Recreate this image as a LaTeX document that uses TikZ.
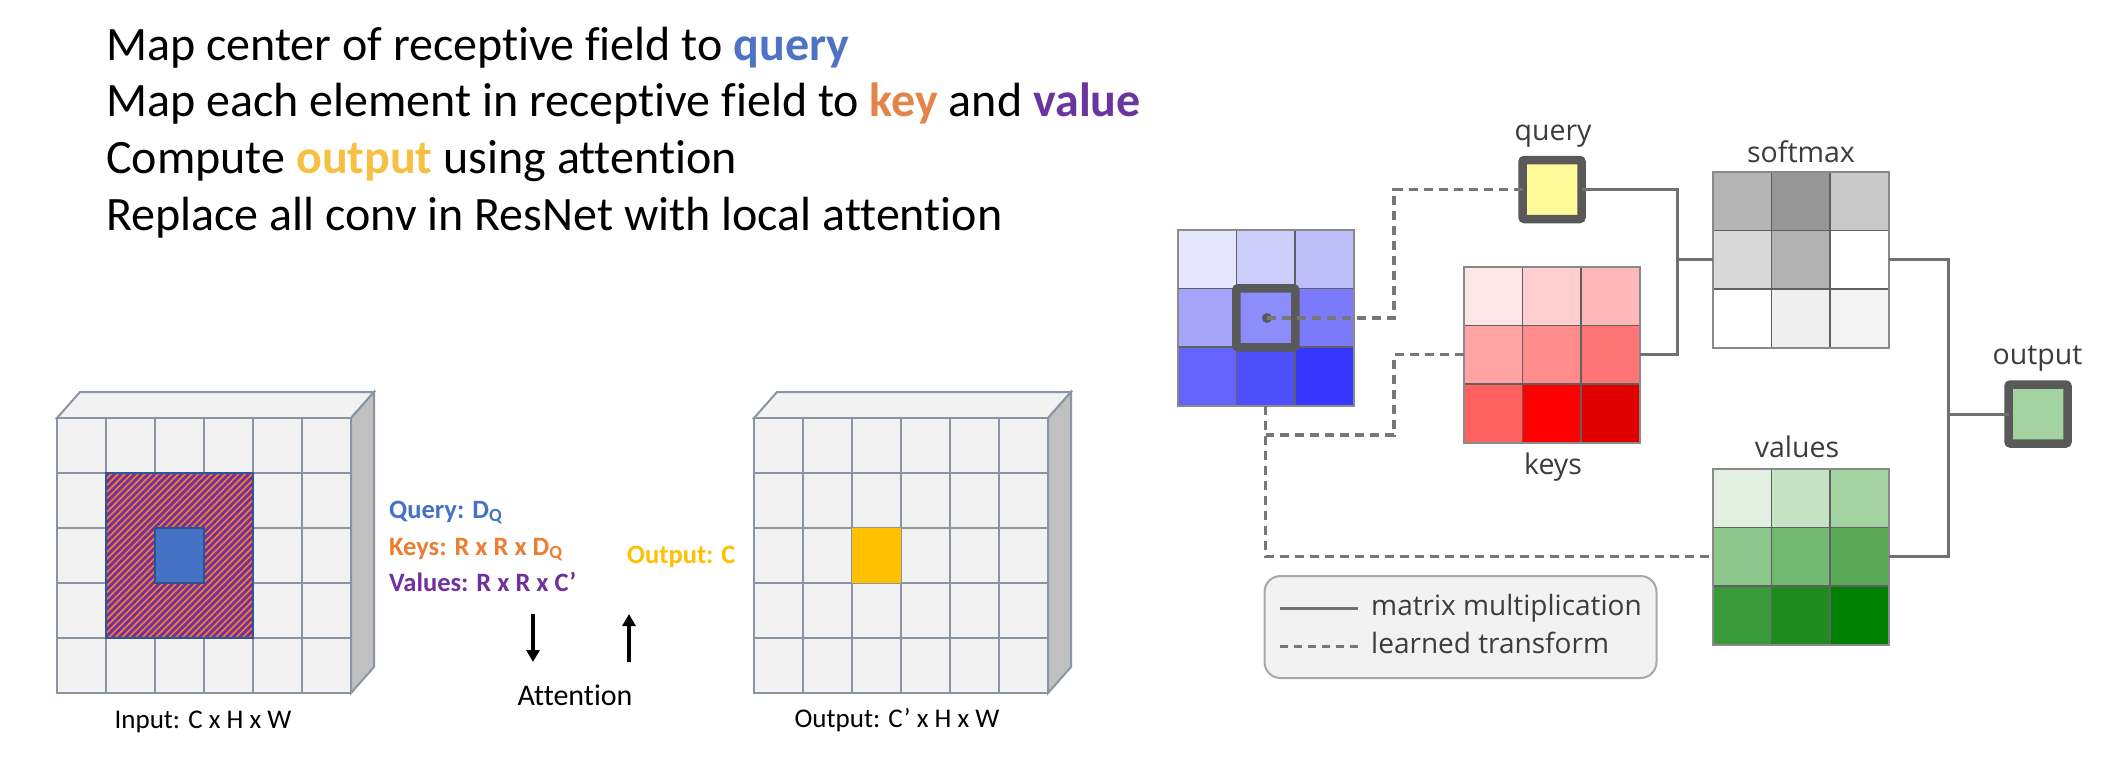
\documentclass[tikz,border=0pt]{standalone}
\usepackage{fontspec}
\setmainfont{Carlito}[Ligatures={NoCommon}]
\newfontfamily\gsans{Open Sans}
\usetikzlibrary{arrows.meta}
\definecolor{qblue}{HTML}{4E72C6}
\definecolor{kor}{HTML}{E4844A}
\definecolor{vpur}{HTML}{6A359F}
\definecolor{oyel}{HTML}{F6C143}
\definecolor{lblue}{HTML}{4472C4}
\definecolor{lor}{HTML}{ED7D31}
\definecolor{lpur}{HTML}{7030A0}
\definecolor{lyel}{HTML}{FFC000}
\definecolor{cubeface}{HTML}{F2F2F2}
\definecolor{cubeside}{HTML}{C0C0C0}
\definecolor{cubeline}{HTML}{8A94A3}
\definecolor{hatchborder}{HTML}{2F5597}
\definecolor{cellborder}{HTML}{2F528F}
\definecolor{boxframe}{HTML}{595959}
\definecolor{qfill}{HTML}{FFF999}
\definecolor{ofill}{HTML}{A3D3A0}
\definecolor{dashc}{HTML}{777777}
\definecolor{solidc}{HTML}{707070}
\definecolor{gtext}{HTML}{3C3C3C}
\definecolor{legfill}{HTML}{F2F2F2}
\definecolor{legline}{HTML}{A8A8A8}
\definecolor{innerline}{HTML}{606060}
\definecolor{outerline}{HTML}{8A8A8A}
\newcommand\mygrid[3]{%
  \foreach \cl [count=\k from 0] in {#3} {
    \pgfmathtruncatemacro\cc{mod(\k,3)}
    \pgfmathtruncatemacro\rr{div(\k,3)}
    \definecolor{tmpc}{HTML}{\cl}
    \fill[tmpc] ({#1+\cc*58.5},{#2+\rr*58.5}) rectangle ++(58.5,58.5);
  }
  \draw[innerline, line width=1.5pt] ({#1+58.5},#2) -- ++(0,175.5)
    ({#1+117},#2) -- ++(0,175.5)
    (#1,{#2+58.5}) -- ++(175.5,0)
    (#1,{#2+117}) -- ++(175.5,0);
  \draw[outerline, line width=2pt] (#1,#2) rectangle ++(175.5,175.5);
}
\begin{document}
\begin{tikzpicture}[x=1pt,y=-1pt,
  toptext/.style={font=\fontsize{48}{58}\selectfont, anchor=base west, inner sep=0pt},
  midlabel/.style={font=\bfseries\fontsize{26.5}{32}\selectfont, anchor=base west, inner sep=0pt},
  cubelabel/.style={font=\fontsize{27}{32}\selectfont, anchor=base, inner sep=0pt},
  glabel/.style={font=\gsans\fontsize{28.5}{34}\selectfont, text=gtext, anchor=base, inner sep=0pt},
  leglabel/.style={font=\gsans\fontsize{28}{34}\selectfont, text=gtext, anchor=base west, inner sep=0pt},
  gridnode/.style={draw=none, minimum width=175.5pt, minimum height=175.5pt, inner sep=0pt, outer sep=0pt},
  framebox/.style={draw=boxframe, line width=8.5pt, rounded corners=2pt, minimum size=59pt, inner sep=0pt, outer sep=0pt},
  lt/.style={draw=dashc, line width=3.2pt, dash pattern=on 9pt off 6pt},
  mm/.style={draw=solidc, line width=3pt},
  bigarrow/.style={draw=black, line width=3.5pt, -{Triangle[length=12pt,width=13pt]}},
  cubeln/.style={draw=cubeline, line width=2pt}
]
\useasboundingbox (0,0) rectangle (2116,772);
\fill[white] (0,0) rectangle (2116,772);

% ---------- top text ----------
\node[toptext] (t1) at (106,60) {Map center of receptive field to \textbf{\textcolor{qblue}{query}}};
\node[toptext] (t2) at (106,116) {Map each element in receptive field to \textbf{\textcolor{kor}{key}} and \textbf{\textcolor{vpur}{value}}};
\node[toptext] (t3) at (106,173) {Compute \textbf{\textcolor{oyel}{output}} using attention};
\node[toptext] (t4) at (106,230) {Replace all conv in ResNet with local attention};

% ---------- cubes ----------
\foreach \ox in {0,697} {
  \begin{scope}[shift={(\ox,0)}]
    \filldraw[cubeln, fill=cubeface] (57,418) -- (80,392) -- (374,392) -- (351,418) -- cycle;
    \filldraw[cubeln, fill=cubeside] (351,418) -- (374,392) -- (374,667) -- (351,693) -- cycle;
    \fill[cubeface] (57,418) rectangle (351,693);
    \foreach \i in {1,...,5} { \draw[cubeln] ({57+49*\i},418) -- ({57+49*\i},693); }
    \foreach \j in {1,...,4} { \draw[cubeln] (57,{418+55*\j}) -- (351,{418+55*\j}); }
    \draw[cubeln] (57,418) rectangle (351,693);
  \end{scope}
}
% hatched receptive field
\begin{scope}
  \clip (106,473) rectangle (253,638);
  \fill[lpur] (106,473) rectangle (253,638);
  \foreach \s in {-174,-167.3,...,260} {
    \draw[lor, line width=1.7pt] ({\s+106},640) -- ++(170,-170);
  }
\end{scope}
\draw[hatchborder, line width=2.5pt] (106,473) rectangle (253,638);
\filldraw[fill=lblue, draw=cellborder, line width=2pt] (155,528) rectangle (204,583);
% output cell
\fill[lyel] (852,528) rectangle (901,583);

\node[cubelabel] (inlab) at (203,728) {Input: C x H x W};
\node[cubelabel] (outlab) at (897,727) {Output: C’ x H x W};

% ---------- middle labels ----------
\node[midlabel, text=lblue] (ql) at (389,518) {Query: D\textsubscript{Q}};
\node[midlabel, text=lor] (kl) at (389,555) {Keys: R x R x D\textsubscript{Q}};
\node[midlabel, text=lpur] (vl) at (389,591) {Values: R x R x C’};
\node[midlabel, text=lyel] (ol) at (627,563) {Output: C};
\coordinate (a1s) at (533,614);
\coordinate (a1e) at (533,662);
\coordinate (a2s) at (629,662);
\coordinate (a2e) at (629,614);
\draw[bigarrow] (a1s) -- (a1e);
\draw[bigarrow] (a2s) -- (a2e);
\node[font=\fontsize{30}{36}\selectfont, anchor=base, inner sep=0pt] (att) at (575,705) {Attention};

% ---------- right diagram ----------
\mygrid{1178}{230}{E6E6FC,CDCDFB,BEBEFB,A4A4FB,8C8CFB,7A7AFB,6464FB,4E4EFB,3636FF}
\mygrid{1464}{267}{FFE6E6,FFCFCF,FFB8B8,FFA3A3,FF8C8C,FF7575,FF6161,FF0000,E00000}
\mygrid{1713}{172}{B5B5B5,979797,C9C9C9,D8D8D8,B1B1B1,FFFFFF,FFFFFF,EFEFEF,F3F3F3}
\mygrid{1713}{469}{E1F0E1,C6E3C6,A2D3A0,8CC78C,72B972,58A858,3A9A3A,1E8C1E,008000}
\node[gridnode] (blue) at (1265.75,317.75) {};
\node[gridnode] (keys) at (1551.75,354.75) {};
\node[gridnode] (soft) at (1800.75,259.75) {};
\node[gridnode] (vals) at (1800.75,556.75) {};

\node[framebox] (center) at (1265.75,317.75) {};
\node[framebox, fill=qfill] (query) at (1552,189.5) {};
\node[framebox, fill=ofill] (outb) at (2038,414) {};
\node[circle, fill=boxframe, inner sep=0pt, minimum size=10pt] (dot) at (1267,318) {};

\node[glabel] (qlab) at (1553,140.5) {query};
\node[glabel] (slab) at (1801,162.5) {softmax};
\node[glabel] (klab) at (1553,474) {keys};
\node[glabel] (olab) at (2037.5,364) {output};
\node[glabel] (vlab) at (1797,457) {values};

\coordinate (qx) at (1394,0);
\coordinate (kj) at (0,435);
\coordinate (sx) at (1677,0);
\coordinate (ox) at (1948,0);

\draw[lt] (dot.center) -- (dot.center -| qx) |- (query.west);
\draw[lt] (keys.west) -- (keys.west -| qx) |- (blue.south |- kj);
\draw[lt] (blue.south) |- (vals.west);

\draw[mm] (query.east) -| (keys.east -| sx) -- (keys.east);
\draw[mm] (sx |- soft.west) -- (soft.west);
\draw[mm] (soft.east) -| (vals.east -| ox) -- (vals.east);
\draw[mm] (ox |- outb.west) -- (outb.west);

% ---------- legend ----------
\node[draw=legline, fill=legfill, line width=2pt, rounded corners=16pt, minimum width=392pt, minimum height=102pt, inner sep=0pt] (legend) at (1460.5,627) {};
\coordinate (l1s) at (1280,608);
\coordinate (l1e) at (1358,608);
\coordinate (l2s) at (1280,646);
\coordinate (l2e) at (1358,646);
\draw[mm] (l1s) -- (l1e);
\draw[lt, line width=3pt, dash pattern=on 8pt off 6pt] (l2s) -- (l2e);
\node[leglabel] (lm) at (1371,615) {matrix multiplication};
\node[leglabel] (ll) at (1371,653) {learned transform};
\end{tikzpicture}
\end{document}
